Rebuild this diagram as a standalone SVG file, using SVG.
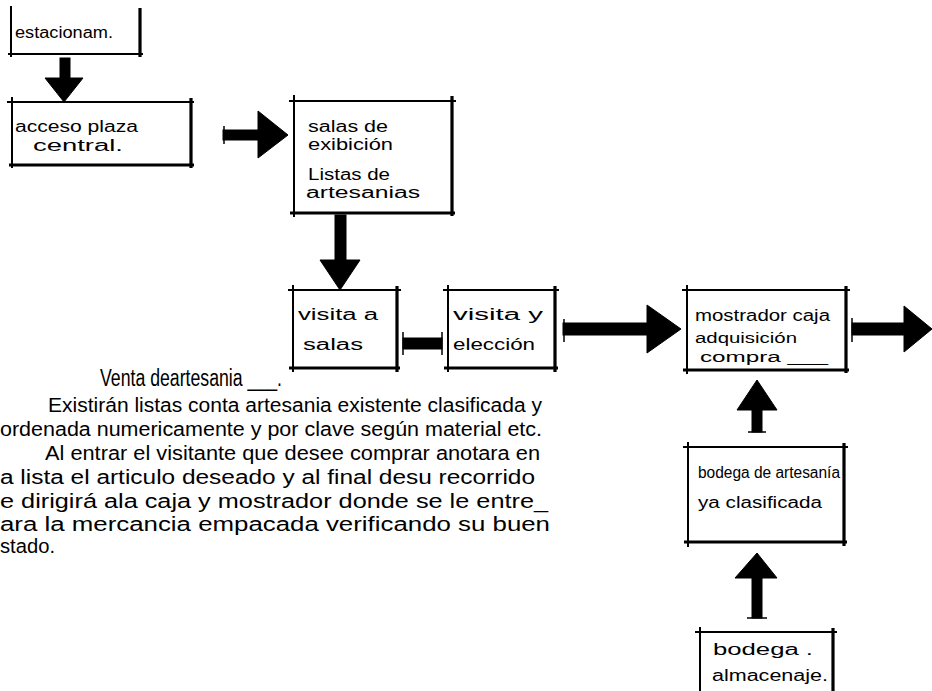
<svg xmlns="http://www.w3.org/2000/svg" width="932" height="691" viewBox="0 0 932 691">
<style>
.bx{fill:none;stroke:#000;stroke-width:2;stroke-linecap:square}
.bxt{fill:none;stroke:#000;stroke-width:3.2}
.ah{fill:#000;stroke:#000;stroke-width:1;stroke-linejoin:miter}
.tk{fill:none;stroke:#000;stroke-width:1.5}
.nt{font-family:"Liberation Sans","DejaVu Sans",sans-serif;font-size:16px;fill:#000}
.ns{font-family:"Liberation Sans","DejaVu Sans",sans-serif;font-size:14px;fill:#000}
.pt{font-family:"Liberation Sans","DejaVu Sans",sans-serif;font-size:20px;fill:#000}
.ph{font-family:"Liberation Sans","DejaVu Sans",sans-serif;font-size:23px;fill:#000}
</style>
<rect width="932" height="691" fill="#fff"/>

<g id="n1">
<path class="bx" d="M11,7 V56 M9,54 H142"/>
<path class="bxt" d="M140,8 V57"/>
<text class="nt" x="15" y="38" textLength="98" lengthAdjust="spacingAndGlyphs">estacionam.</text>
</g>

<g id="n2">
<path class="bx" d="M12,98 V167 M8,102 H193"/>
<path class="bxt" d="M191,98 V168 M9,165 H194"/>
<text class="nt" x="15" y="132" textLength="123" lengthAdjust="spacingAndGlyphs">acceso plaza</text>
<text class="nt" x="33" y="151" textLength="90" lengthAdjust="spacingAndGlyphs">central.</text>
</g>

<g id="n3">
<path class="bx" d="M294,96 V216 M290,101 H455"/>
<path class="bxt" d="M452,96 V216 M290,213 H455"/>
<text class="nt" x="308" y="132" textLength="80" lengthAdjust="spacingAndGlyphs">salas de</text>
<text class="nt" x="308" y="150" textLength="85" lengthAdjust="spacingAndGlyphs">exibición</text>
<text class="nt" x="308" y="180" textLength="82" lengthAdjust="spacingAndGlyphs">Listas de</text>
<text class="nt" x="306" y="198" textLength="114" lengthAdjust="spacingAndGlyphs">artesanias</text>
</g>

<g id="n4">
<path class="bx" d="M293,286 V371 M289,290 H400"/>
<path class="bxt" d="M397,286 V372 M289,368 H400"/>
<text class="nt" x="298" y="320" textLength="80" lengthAdjust="spacingAndGlyphs">visita a</text>
<text class="nt" x="303" y="350" textLength="60" lengthAdjust="spacingAndGlyphs">salas</text>
</g>

<g id="n5">
<path class="bx" d="M448,286 V371 M444,290 H558"/>
<path class="bxt" d="M555,286 V372 M444,368 H558"/>
<text class="nt" x="453" y="320" textLength="90" lengthAdjust="spacingAndGlyphs">visita y</text>
<text class="nt" x="453" y="350" textLength="82" lengthAdjust="spacingAndGlyphs">elección</text>
</g>

<g id="n6">
<path class="bx" d="M687,286 V373 M683,290 H849"/>
<path class="bxt" d="M846,286 V373 M683,370 H849"/>
<text class="nt" x="695" y="321" textLength="135" lengthAdjust="spacingAndGlyphs">mostrador caja</text>
<text class="ns" x="695" y="343" textLength="102" lengthAdjust="spacingAndGlyphs">adquisición</text>
<text class="ns" x="700" y="362" textLength="128" lengthAdjust="spacingAndGlyphs">compra ___</text>
</g>

<g id="n7">
<path class="bx" d="M688,443 V546 M684,447 H847"/>
<path class="bxt" d="M844,443 V546 M684,542 H847"/>
<text class="nt" x="698" y="478" textLength="142" lengthAdjust="spacingAndGlyphs">bodega de artesanía</text>
<text class="nt" x="698" y="508" textLength="124" lengthAdjust="spacingAndGlyphs">ya clasificada</text>
</g>

<g id="n8">
<path class="bx" d="M700,628 V691 M696,632 H836"/>
<path class="bxt" d="M833,628 V691"/>
<text class="nt" x="713" y="655" textLength="100" lengthAdjust="spacingAndGlyphs">bodega .</text>
<text class="nt" x="712" y="681" textLength="116" lengthAdjust="spacingAndGlyphs">almacenaje.</text>
</g>

<g id="connectors">
<rect class="ah" x="60" y="58" width="10" height="22"/>
<polygon class="ah" points="45,78 83,78 64,102"/>

<rect class="ah" x="223" y="130" width="40" height="10"/>
<polygon class="ah" points="258,111 258,158 288,135"/>
<path class="tk" d="M224,126 V144"/>

<rect class="ah" x="335" y="215" width="11" height="47"/>
<polygon class="ah" points="320,260 360,260 340,290"/>

<rect class="ah" x="403" y="338" width="39" height="11"/>
<path class="tk" d="M403,332 V355 M442,332 V355"/>

<rect class="ah" x="563" y="323" width="87" height="12"/>
<polygon class="ah" points="647,305 647,353 681,329"/>
<path class="tk" d="M564,319 V342"/>

<rect class="ah" x="852" y="323" width="54" height="12"/>
<polygon class="ah" points="904,306 904,352 932,329"/>
<path class="tk" d="M852,318 V342"/>

<rect class="ah" x="752" y="406" width="10" height="26"/>
<polygon class="ah" points="737,410 777,410 757,380"/>
<path class="tk" d="M748,432 H766"/>

<rect class="ah" x="752" y="575" width="10" height="43"/>
<polygon class="ah" points="735,578 777,578 757,553"/>
<path class="tk" d="M747,618 H767"/>
</g>

<g id="text">
<text class="ph" x="100" y="386" textLength="182" lengthAdjust="spacingAndGlyphs">Venta deartesania ___.</text>
<text class="pt" x="48" y="412" textLength="494" lengthAdjust="spacingAndGlyphs">Existirán listas conta artesania existente clasificada y</text>
<text class="pt" x="0" y="436" textLength="542" lengthAdjust="spacingAndGlyphs">ordenada numericamente y por clave según material etc.</text>
<text class="pt" x="45" y="460" textLength="495" lengthAdjust="spacingAndGlyphs">Al entrar el visitante que desee comprar anotara en</text>
<text class="pt" x="0" y="484" textLength="535" lengthAdjust="spacingAndGlyphs">a lista el articulo deseado y al final desu recorrido</text>
<text class="pt" x="0" y="508" textLength="548" lengthAdjust="spacingAndGlyphs">e dirigirá ala caja y mostrador donde se le entre_</text>
<text class="pt" x="0" y="531" textLength="550" lengthAdjust="spacingAndGlyphs">ara la mercancia empacada verificando su buen</text>
<text class="pt" x="0" y="553" textLength="55" lengthAdjust="spacingAndGlyphs">stado.</text>
</g>
</svg>
